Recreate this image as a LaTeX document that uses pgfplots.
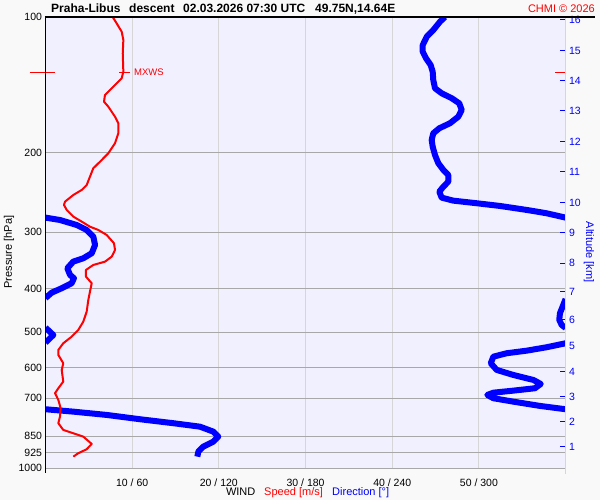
\documentclass[border=0pt]{standalone}
\usepackage{fontspec}
\setmainfont{Liberation Sans}
\usepackage{pgfplots}
\usepackage{pgfplotstable}
\pgfplotsset{compat=1.18}
\definecolor{plotbg}{RGB}{240,240,255}
\definecolor{pagebg}{RGB}{249,249,249}
\definecolor{hgrid}{RGB}{168,168,168}
\definecolor{vgrid}{RGB}{214,214,214}
\definecolor{myblue}{RGB}{0,0,255}
\definecolor{myred}{RGB}{255,0,0}
\newcommand\tfont{\fontsize{11bp}{13bp}\selectfont}
\newcommand\kfont{\fontsize{10.5bp}{12bp}\selectfont}

\pgfplotstableread{
v p
7.75 100
8.21 103.3
8.79 107.8
8.98 112.5
8.91 120.4
8.98 132.2
8.79 136.7
7.64 143.9
6.86 148.9
6.75 154.1
7.25 158.1
8.02 166.4
8.40 172.0
8.40 181.1
8.02 190.5
7.25 200.5
6.29 209.3
5.51 216.5
5.13 226.0
4.75 235.8
4.18 241.8
3.21 248.1
2.25 256.7
2.13 261.1
2.45 267.8
3.21 277.1
4.18 284.3
5.13 291.7
6.09 296.6
7.06 304.3
7.90 317.5
8.02 328.5
7.64 339.9
6.86 348.7
5.51 354.7
4.67 363.8
4.67 376.5
5.33 389.4
5.13 406.5
4.94 424.0
4.75 450.1
4.36 473.7
3.78 494.2
3.02 511.4
2.05 528.9
1.48 547.3
1.48 561.5
2.05 585.8
1.87 606.1
2.05 643.4
1.48 665.5
1.10 682.7
1.48 706.5
1.75 737.0
1.67 769.3
1.48 795.7
2.05 823.4
3.21 837.4
4.36 852.0
5.33 884.4
4.75 908.6
3.78 927.3
3.21 943.5
}\speed

\pgfplotstableread{
d p
276.5 100
273.1 102.4
268.4 106.9
263.9 110.6
261.1 115.4
261.1 119.4
263.4 123.5
266.6 127.8
268.0 132.2
268.4 137.9
269.6 143.9
274.2 147.6
281.2 151.4
286.4 155.4
288.1 160.8
285.7 166.4
280.0 172.0
272.6 176.5
268.4 181.1
267.3 187.4
268.0 193.9
269.6 202.3
271.9 211.0
275.4 218.4
278.8 224.0
278.8 231.8
275.4 237.8
272.6 243.9
274.2 251.5
282.3 255.4
298.5 258.8
314.6 262.4
333.1 267.8
346.9 272.4
360.0 278.5
}\dirA

\pgfplotstableread{
d p
0.0 278.5
10.0 281.9
21.6 289.2
28.5 296.6
33.1 307.0
34.3 320.2
32.0 334.1
26.2 342.7
19.2 348.7
15.1 360.7
17.0 373.2
19.7 379.6
18.1 389.4
11.2 399.5
4.3 408.5
0.0 420.0
}\dirB

\pgfplotstableread{
d p
360.0 422.0
356.1 453.8
355.6 469.6
357.3 481.8
360.0 489.0
}\dirC

\pgfplotstableread{
d p
0.0 488.4
5.4 507.0
0.0 527.5
}\dirD

\pgfplotstableread{
d p
360.0 528.9
346.9 539.8
333.1 549.3
319.2 556.6
310.0 566.4
308.2 585.8
312.3 606.1
323.8 621.9
337.7 637.9
342.8 651.1
338.8 665.5
323.8 673.7
310.0 680.7
305.8 688.7
310.0 700.4
323.8 712.7
342.3 728.4
358.4 739.7
360.0 740.5
}\dirE

\pgfplotstableread{
d p
0.0 740.9
19.2 750.0
42.4 762.8
65.4 779.7
88.5 795.7
106.9 809.7
116.2 830.6
119.6 852.0
116.2 874.0
109.2 896.7
105.8 919.7
105.1 943.5
}\dirF

\begin{document}
\begin{tikzpicture}[x=1bp,y=1bp]
\useasboundingbox (0,0) rectangle (600,500);
\fill[pagebg] (0,0) rectangle (600,500);
\begin{axis}[
  at={(45.5bp,32bp)}, anchor=south west, scale only axis,
  width=520.1bp, height=451bp,
  xmin=0, xmax=60, ymode=log, ymin=100, ymax=1000, y dir=reverse,
  axis background/.style={fill=plotbg},
  axis line style={draw=none},
  xtick={10,20,30,40,50},
  xticklabels={10 / 60, 20 / 120, 30 / 180, 40 / 240, 50 / 300},
  ytick={100,200,300,400,500,600,700,850,925,1000},
  yticklabels={100,200,300,400,500,600,700,850,925,1000},
  major tick length=0pt,
  xmajorgrids, ymajorgrids,
  x grid style={vgrid, line width=1bp},
  y grid style={hgrid, line width=1bp},
  tick label style={font=\kfont},
  xticklabel style={yshift=-7bp},
  yticklabel style={xshift=0bp},
  clip mode=individual,
]
\addplot[myblue, line width=6bp, line join=round, no markers] table[x expr=\thisrow{d}/6, y=p] {\dirA};
\addplot[myblue, line width=6bp, line join=round, no markers] table[x expr=\thisrow{d}/6, y=p] {\dirB};
\addplot[myblue, line width=6bp, line join=round, no markers] table[x expr=\thisrow{d}/6, y=p] {\dirC};
\addplot[myblue, line width=6bp, line join=round, no markers] table[x expr=\thisrow{d}/6, y=p] {\dirD};
\addplot[myblue, line width=6bp, line join=round, no markers] table[x expr=\thisrow{d}/6, y=p] {\dirE};
\addplot[myblue, line width=6bp, line join=round, no markers] table[x expr=\thisrow{d}/6, y=p] {\dirF};
\addplot[myred, line width=2bp, line join=round, no markers] table[x=v, y=p] {\speed};
% MXWS marks
\draw[myred, line width=1bp] (axis cs:-1.8,132.5) -- (axis cs:1.1,132.5);
\draw[myred, line width=1bp] (axis cs:8.5,132.5) -- (axis cs:9.7,132.5);
\draw[myred, line width=1bp] (axis cs:58.8,132.5) -- (axis cs:60,132.5);
\node[anchor=west, inner sep=0, text=myred, font=\fontsize{9.5bp}{11bp}\selectfont] at (axis cs:10.2,132.5) {MXWS};
\end{axis}
\begin{axis}[
  at={(45.5bp,32bp)}, anchor=south west, scale only axis,
  width=520.1bp, height=451bp,
  xmin=0, xmax=60, ymode=log, ymin=100, ymax=1000, y dir=reverse,
  hide x axis, axis y line*=right, axis line style={draw=none},
  ytick={896.5,790.3,694.5,612.3,536.2,469.6,406.5,351.6,301.2,258.4,220.6,189.0,161.6,138.6,118.8,101.5},
  yticklabels={1,2,3,4,5,6,7,8,9,10,11,12,13,14,15,16},
  ytick style={myblue, line width=1bp},
  major tick length=6bp, tick align=inside,
  yticklabel style={text=myblue, font=\kfont},
]
\end{axis}
\draw[vgrid, line width=1bp] (565.6,26) -- (565.6,483);
\draw[black, line width=1.2bp] (45.5,27) -- (45.5,483.6);
\draw[black, line width=1.2bp] (44.9,483) -- (595,483);
% titles
\node[anchor=base west, inner sep=0, font=\bfseries\fontsize{12bp}{14bp}\selectfont] at (51,487) {Praha-Libus};
\node[anchor=base west, inner sep=0, font=\bfseries\fontsize{12bp}{14bp}\selectfont] at (129,487) {descent};
\node[anchor=base west, inner sep=0, font=\bfseries\fontsize{12bp}{14bp}\selectfont] at (183,487) {02.03.2026 07:30 UTC};
\node[anchor=base west, inner sep=0, font=\bfseries\fontsize{12bp}{14bp}\selectfont] at (315,487) {49.75N,14.64E};
\node[anchor=base east, inner sep=0, text=myred, font=\tfont] at (595,487) {CHMI © 2026};
% axis labels
\node[rotate=90, inner sep=0, font=\tfont] at (9,248) {Pressure [hPa]};
\node[rotate=-90, inner sep=0, font=\tfont, text=myblue] at (589,248) {Altitude [km]};
\node[anchor=base west, inner sep=0, font=\tfont] at (225.8,4) {WIND};
\node[anchor=base west, inner sep=0, font=\tfont, text=myred] at (264,4) {Speed [m/s]};
\node[anchor=base west, inner sep=0, font=\tfont, text=myblue] at (332,4) {Direction [°]};
\end{tikzpicture}
\end{document}
